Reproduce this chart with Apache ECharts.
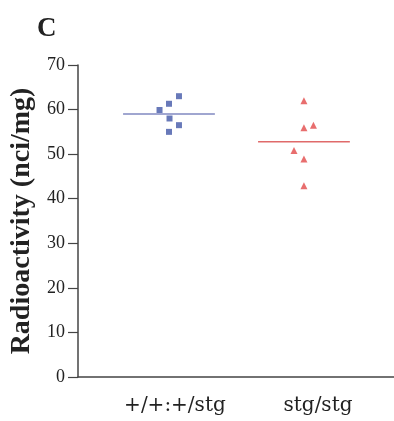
<!DOCTYPE html>
<html>
<head>
<meta charset="utf-8">
<script src="https://cdn.jsdelivr.net/npm/echarts@6/dist/echarts.min.js"></script>
<style>html,body{margin:0;padding:0;background:#fff;}#c{width:394px;height:421px;}</style>
</head>
<body>
<div id="c"></div>
<script>
// Data
const categories = ['+/+:+/stg', 'stg/stg'];
const groupPos = [1, 2];
const wildValues = [63.0, 61.3, 59.9, 58.0, 56.5, 55.0];
const wildJitter = [0.074, 0, -0.07, 0.004, 0.074, 0];
const stgValues = [62.0, 55.9, 56.5, 50.8, 48.9, 42.9];
const stgJitter = [0, 0, 0.07, -0.074, 0, 0];
const meanValues = [59.0, 52.8];
const meanHalfWidth = 0.34;
const yTicks = [0, 10, 20, 30, 40, 50, 60, 70];
const labelPos = [1.044, 2.104];

const chart = echarts.init(document.getElementById('c'));
const blue = '#4257a8', red = '#e24a4a';

function pts(vals, jit, g) { return vals.map((v, i) => [groupPos[g] + jit[i], v]); }
function meanLine(g) { return [[groupPos[g] - meanHalfWidth, meanValues[g]], [groupPos[g] + meanHalfWidth, meanValues[g]]]; }

chart.setOption({
  animation: false,
  backgroundColor: '#fff',
  title: {
    text: 'C', left: 32, top: 11,
    textStyle: { fontFamily: 'Liberation Serif', fontWeight: 'bold', fontSize: 27, color: '#222' }
  },
  grid: { left: 78, right: 0, top: 65, bottom: 44, containLabel: false, outerBoundsMode: 'none' },
  xAxis: {
    type: 'value', min: 0.326, max: 2.667,
    splitLine: { show: false },
    axisLine: { show: true, onZero: false, lineStyle: { color: '#444', width: 1.5 } },
    axisTick: { show: false },
    axisLabel: {
      customValues: labelPos, margin: 19,
      fontFamily: 'DejaVu Serif', fontSize: 20, color: '#222',
      formatter: v => categories[Math.abs(v - labelPos[0]) < 0.5 ? 0 : 1]
    }
  },
  yAxis: {
    type: 'value', min: 0, max: 70, interval: 10,
    name: 'Radioactivity (nci/mg)', nameLocation: 'middle', nameGap: 41, nameRotate: 90,
    nameTextStyle: { fontFamily: 'Liberation Serif', fontWeight: 'bold', fontSize: 28, color: '#222' },
    splitLine: { show: false },
    axisLine: { show: true, lineStyle: { color: '#444', width: 1.5 } },
    axisTick: { show: true, inside: false, length: 10, lineStyle: { color: '#444', width: 1.2 } },
    axisLabel: { margin: 13, fontFamily: 'Liberation Serif', fontSize: 18, color: '#222' }
  },
  series: [
    { type: 'scatter', data: pts(wildValues, wildJitter, 0), symbol: 'rect', symbolSize: 6, itemStyle: { color: blue } },
    { type: 'scatter', data: pts(stgValues, stgJitter, 1), symbol: 'triangle', symbolSize: 7, itemStyle: { color: red } },
    { type: 'line', data: meanLine(0), symbol: 'none', lineStyle: { color: '#8088c0', width: 1.5 } },
    { type: 'line', data: meanLine(1), symbol: 'none', lineStyle: { color: '#e06a6a', width: 1.5 } }
  ]
});
</script>
</body>
</html>
